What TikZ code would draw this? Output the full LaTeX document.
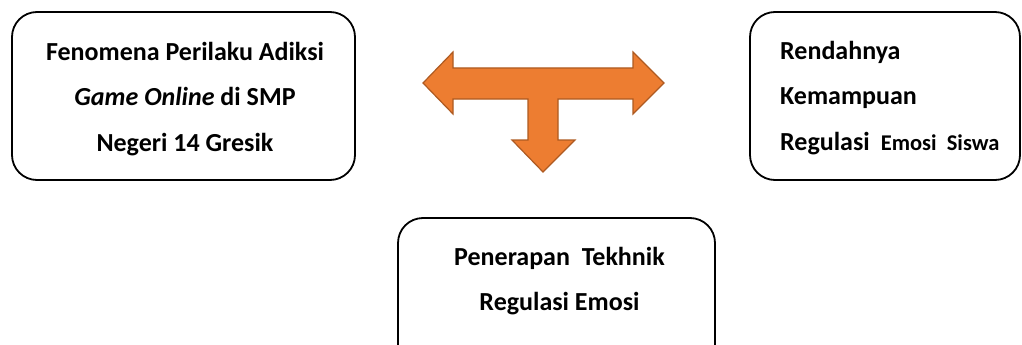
\documentclass[tikz,border=0pt]{standalone}
\usepackage{fontspec}
\setmainfont{Carlito}
\definecolor{arrowfill}{HTML}{ED7D31}
\definecolor{arrowline}{HTML}{AE5A21}
\begin{document}
\begin{tikzpicture}[x=1pt,y=-1pt,
  box/.style={draw=black, line width=1.8pt, rounded corners=25pt, inner sep=0pt},
  boxtext/.style={font=\bfseries\fontsize{26}{45.5}\selectfont, inner sep=0pt}]
\useasboundingbox (0,0) rectangle (1022,345);
\clip (0,0) rectangle (1022,345);

% left box
\node[box, minimum width=343pt, minimum height=168pt] (fenomena) at (183.5,96) {};
\node[boxtext, align=center] (fenomenatext) at (185,99)
  {Fenomena Perilaku Adiksi\\\textit{Game Online} di SMP\\Negeri 14 Gresik};

% right box
\node[box, minimum width=270pt, minimum height=168pt] (rendah) at (885,96) {};
\node[boxtext, align=left, anchor=west] (rendahtext) at (780,98)
  {Rendahnya\\Kemampuan\\Regulasi {\fontsize{22.5}{45.5}\selectfont\ Emosi\ \ Siswa}};

% bottom box (runs past the lower edge)
\node[box, minimum width=317pt, minimum height=170pt] (penerapan) at (556.5,303) {};
\node[boxtext, align=center] (penerapantext) at (559.5,281) {Penerapan\ \ Tekhnik\\Regulasi Emosi};

% three-way block arrow
\draw[fill=arrowfill, draw=arrowline, line width=1.2pt, line join=miter]
  (423,83) -- (453,52) -- (453,68) -- (633,68) -- (633,52) -- (664,83)
  -- (633,114) -- (633,99) -- (558,99) -- (558,140) -- (575,140)
  -- (543,172) -- (512,140) -- (528,140) -- (528,99) -- (453,99)
  -- (453,114) -- cycle;
\end{tikzpicture}
\end{document}
